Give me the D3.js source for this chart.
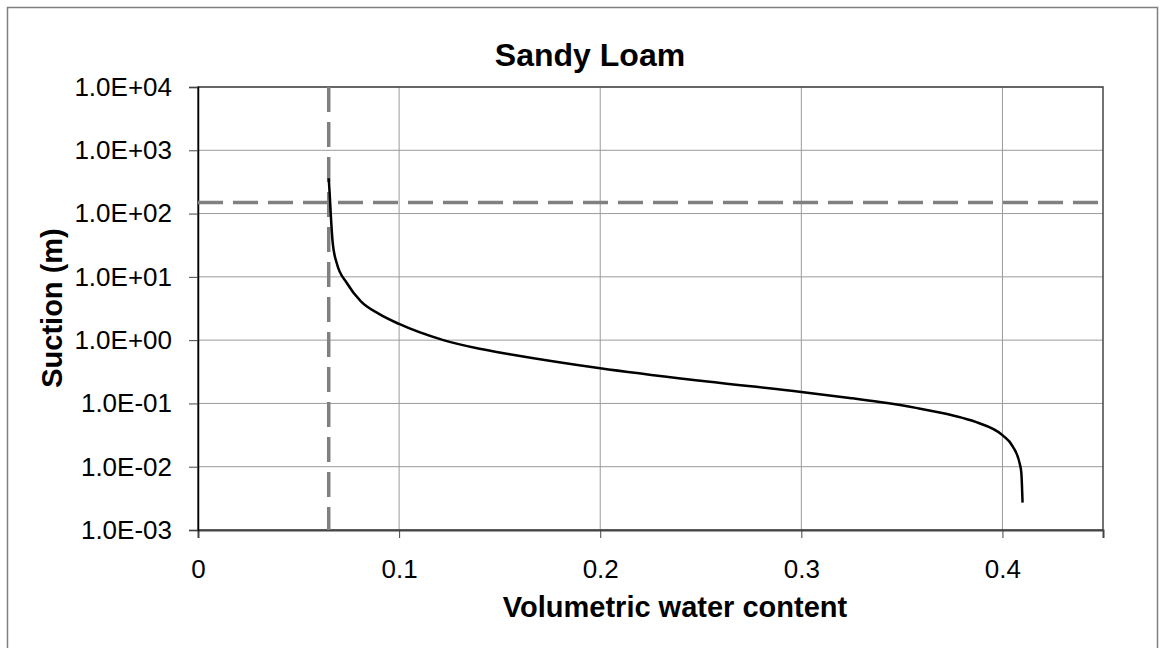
<!DOCTYPE html>
<html>
<head>
<meta charset="utf-8">
<script src="https://cdn.jsdelivr.net/npm/d3@7/dist/d3.min.js"></script>
<style>
    body { margin: 0; background: #fff; }
    text { font-family: "Liberation Sans", Arial, sans-serif; fill: #000; }
    .grid line { stroke: #9a9a9a; stroke-width: 1; }
</style>
</head>
<body>
<svg id="id-grafico-svg" width="1163" height="648"></svg>
<script>
// Datos: contenido volumétrico de agua y succión (m)
const theta = [0.065, 0.0655, 0.066, 0.067, 0.069, 0.074, 0.081, 0.090, 0.100, 0.122,
    0.140, 0.155, 0.200, 0.250, 0.300, 0.324, 0.339, 0.357, 0.375, 0.387,
    0.400, 0.405, 0.4087, 0.4094, 0.410];
const suction = [361, 200, 100, 34, 16.4, 8.0, 4.1, 2.6, 1.8, 1.0,
    0.73, 0.60, 0.36, 0.228, 0.152, 0.122, 0.105, 0.085, 0.065, 0.0505,
    0.0315, 0.0212, 0.0108, 0.0079, 0.00271];

// Líneas de referencia: contenido residual y punto de marchitez
const residualTheta = 0.065;
const wiltingSuction = 150;

const xTicks = [0, 0.1, 0.2, 0.3, 0.4];
const xTickLabels = ["0", "0.1", "0.2", "0.3", "0.4"];
const yTicks = [1e-3, 1e-2, 1e-1, 1e0, 1e1, 1e2, 1e3, 1e4];
const yTickLabels = ["1.0E-03", "1.0E-02", "1.0E-01", "1.0E+00", "1.0E+01", "1.0E+02", "1.0E+03", "1.0E+04"];

let svg = d3.select("#id-grafico-svg");
let plotLeft = 198, plotRight = 1103, plotTop = 87, plotBottom = 530;

// Marco exterior del gráfico
svg.append("rect")
    .attr("x", 7.5).attr("y", 7.5)
    .attr("width", 1150).attr("height", 700)
    .attr("fill", "none")
    .attr("stroke", "#7f7f7f")
    .attr("stroke-width", 1.5);

let x = d3.scaleLinear().domain([0, 0.45]).range([plotLeft, plotRight]);
let y = d3.scaleLog().domain([1e-3, 1e4]).range([plotBottom, plotTop]);

// Rejilla
let grid = svg.append("g").attr("class", "grid");
grid.selectAll(".gx")
    .data(xTicks.slice(1))
    .enter().append("line")
    .attr("x1", d => x(d)).attr("x2", d => x(d))
    .attr("y1", plotTop).attr("y2", plotBottom);
grid.selectAll(".gy")
    .data(yTicks.slice(1))
    .enter().append("line")
    .attr("x1", plotLeft).attr("x2", plotRight)
    .attr("y1", d => y(d)).attr("y2", d => y(d));

// Borde del área de trazado
svg.append("rect")
    .attr("x", plotLeft).attr("y", plotTop)
    .attr("width", plotRight - plotLeft).attr("height", plotBottom - plotTop)
    .attr("fill", "none")
    .attr("stroke", "#444")
    .attr("stroke-width", 1.5);

// Ejes
let xAxis = svg.append("g")
    .attr("transform", "translate(0," + plotBottom + ")")
    .call(d3.axisBottom(x).tickValues(xTicks)
        .tickFormat((d, i) => xTickLabels[i])
        .tickSize(8).tickPadding(22));
xAxis.select(".domain").attr("stroke", "#444").attr("stroke-width", 2);
xAxis.selectAll("line").attr("stroke", "#444");
xAxis.selectAll("text").attr("font-size", "26px")
    .attr("font-family", "Liberation Sans, Arial, sans-serif");

let yAxis = svg.append("g")
    .attr("transform", "translate(" + plotLeft + ",0)")
    .call(d3.axisLeft(y).tickValues(yTicks)
        .tickFormat((d, i) => yTickLabels[i])
        .tickSize(9).tickPadding(17));
yAxis.select(".domain").attr("stroke", "#000").attr("stroke-width", 1.5);
yAxis.selectAll("line").attr("stroke", "#444");
yAxis.selectAll("text").attr("font-size", "26px")
    .attr("font-family", "Liberation Sans, Arial, sans-serif");

// Líneas discontinuas de referencia
svg.append("line")
    .attr("x1", x(residualTheta)).attr("x2", x(residualTheta))
    .attr("y1", plotTop).attr("y2", plotBottom)
    .attr("stroke", "#808080").attr("stroke-width", 3.5)
    .attr("stroke-dasharray", "25,10");
svg.append("line")
    .attr("x1", plotLeft).attr("x2", plotRight)
    .attr("y1", y(wiltingSuction)).attr("y2", y(wiltingSuction))
    .attr("stroke", "#808080").attr("stroke-width", 3.5)
    .attr("stroke-dasharray", "25,10");

// Curva de retención
let line = d3.line()
    .x((d, i) => x(theta[i]))
    .y(d => y(d))
    .curve(d3.curveMonotoneX);
svg.append("path")
    .datum(suction)
    .attr("d", line)
    .attr("fill", "none")
    .attr("stroke", "#000")
    .attr("stroke-width", 2.5);

// Títulos
svg.append("text")
    .attr("x", 590).attr("y", 66)
    .attr("text-anchor", "middle")
    .attr("font-size", "32px").attr("font-weight", "bold")
    .text("Sandy Loam");
svg.append("text")
    .attr("x", 675).attr("y", 617)
    .attr("text-anchor", "middle")
    .attr("font-size", "29px").attr("font-weight", "bold")
    .text("Volumetric water content");
svg.append("text")
    .attr("transform", "translate(62,308) rotate(-90)")
    .attr("text-anchor", "middle")
    .attr("font-size", "29px").attr("font-weight", "bold")
    .text("Suction (m)");
</script>
</body>
</html>
